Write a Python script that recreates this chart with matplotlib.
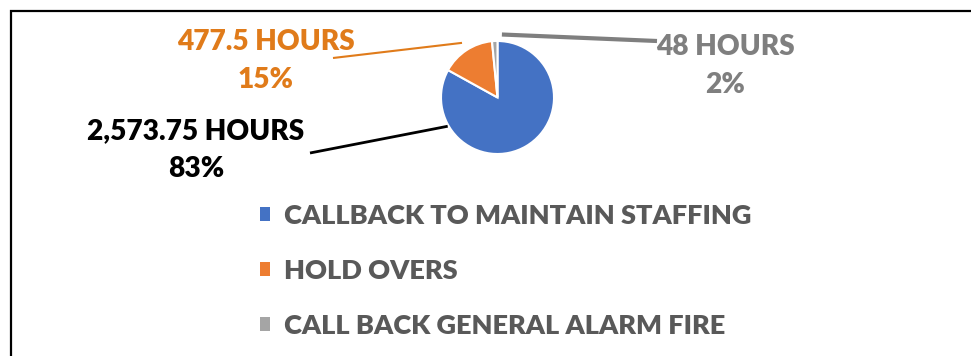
import numpy as np
import matplotlib
matplotlib.use("agg")
import matplotlib.pyplot as plt
from matplotlib.patches import Rectangle

plt.rcParams['font.family'] = ['Lato', 'DejaVu Sans']

categories = ["CALLBACK TO MAINTAIN STAFFING", "HOLD OVERS", "CALL BACK GENERAL ALARM FIRE"]
hours = [2573.75, 477.5, 48]
hour_labels = ["2,573.75 HOURS", "477.5 HOURS", "48 HOURS"]
colors = ["#4472C4", "#ED7D31", "#A5A5A5"]
label_colors = ["#000000", "#E07B1A", "#7F7F7F"]

W, H = 971, 356
fig = plt.figure(figsize=(W / 100, H / 100), dpi=100)
# one axes spanning the figure, in pixel units (y measured upward)
ax = fig.add_axes([0, 0, 1, 1])

cx, cy, r = 497.5, H - 97.5, 56.5
wedges, _ = ax.pie(hours, colors=colors, startangle=90, counterclock=False,
                   center=(cx, cy), radius=r, explode=[0, 0.1, 0.1],
                   wedgeprops=dict(edgecolor='white', linewidth=1.5), frame=True)
ax.set_xlim(0, W)
ax.set_ylim(0, H)
ax.set_aspect('equal')
ax.axis('off')

pct = np.array(hours) / sum(hours) * 100

# data labels: text centre, leader start, leader angle on the pie, line width
label_pos = [(196, H - 150), (266, H - 61), (725, H - 66)]
line_start = [(310, H - 153), (333, H - 58), (657, H - 41)]
anchor_ang = [210, 123, 86]
anchor_rad = [r + 1, r * 1.1 + 3, r * 1.1 + 1]
lws = [2.0, 1.5, 3.0]
for i in range(3):
    txt = f"{hour_labels[i]}\n{pct[i]:.0f}%"
    ax.text(*label_pos[i], txt, ha='center', va='center', fontsize=20.2,
            color=label_colors[i], fontweight='heavy', linespacing=1.55)
    a = np.deg2rad(anchor_ang[i])
    ex, ey = cx + anchor_rad[i] * np.cos(a), cy + anchor_rad[i] * np.sin(a)
    ax.plot([line_start[i][0], ex], [line_start[i][1], ey],
            color=label_colors[i], lw=lws[i], solid_capstyle='butt')

leg = ax.legend(wedges, categories, loc='upper left',
                bbox_to_anchor=(246 / W, 1 - 190 / H), frameon=False,
                handlelength=0.4, handleheight=0.4, handletextpad=0.5,
                labelspacing=1.15, borderpad=0, prop=dict(size=19.5, weight='heavy'))
for t in leg.get_texts():
    t.set_color("#595959")
for h in leg.legend_handles:
    h.set_edgecolor('none')

# chart border, only top and left edges fall inside the image
fig.patches.append(Rectangle((11 / W, -0.5), 2, 0.5 + (H - 10.5) / H,
                             transform=fig.transFigure, fill=False,
                             edgecolor='black', lw=1.6))

fig.savefig("out.png", dpi=100)
